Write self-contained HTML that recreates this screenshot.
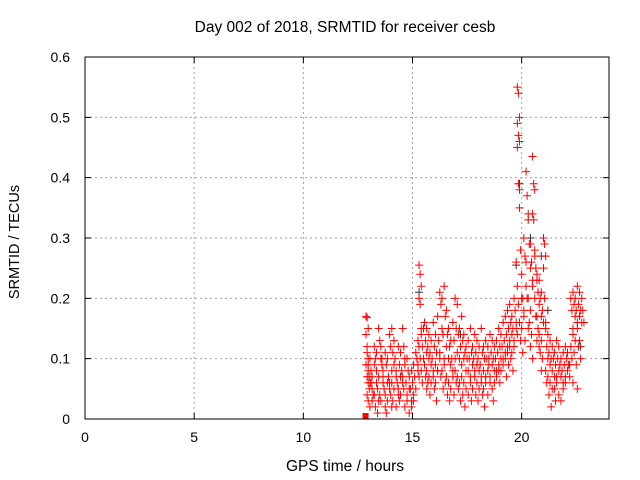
<!DOCTYPE html>
<html><head><meta charset="utf-8"><style>
body{margin:0;background:#fff}
svg{display:block;font-family:"Liberation Sans",sans-serif}
</style></head><body>
<svg id="chart" width="640" height="480" viewBox="0 0 640 480" xmlns="http://www.w3.org/2000/svg">
<rect width="640" height="480" fill="#fff"/>
<text x="345" y="32" font-size="15.5" text-anchor="middle">Day 002 of 2018, SRMTID for receiver cesb</text>
<text x="345" y="471" font-size="15.5" text-anchor="middle">GPS time / hours</text>
<text x="19" y="242" font-size="14.5" text-anchor="middle" transform="rotate(-90 19 242)">SRMTID / TECUs</text>
<g id="grid"></g>
<g id="axes"></g>
<g id="marks"></g>
<rect x="85" y="57" width="524" height="362" fill="none" stroke="#000" stroke-width="1"/>
</svg>
<script>
const xTicks = [0,5,10,15,20];
const yTicks = [0,0.1,0.2,0.3,0.4,0.5,0.6];
const yTickLabels = ["0","0.1","0.2","0.3","0.4","0.5","0.6"];
const groupTimes = [12.92,12.97,13.02,13.1,13.2,13.3,13.4,13.5,13.6,13.7,13.8,13.9,14.0,14.1,14.2,14.3,14.4,14.5,14.6,14.7,14.8,14.9,15.0,15.1,15.2,15.3,15.35,15.45,15.6,15.7,15.8,15.9,16.0,16.1,16.2,16.3,16.4,16.5,16.6,16.7,16.8,16.9,17.0,17.1,17.2,17.3,17.4,17.5,17.6,17.7,17.8,17.9,18.0,18.1,18.2,18.3,18.4,18.5,18.6,18.7,18.8,18.9,19.0,19.1,19.2,19.3,19.4,19.5,19.6,19.7,19.8,19.85,19.95,20.05,20.15,20.25,20.35,20.45,20.55,20.65,20.75,20.85,20.95,21.05,21.15,21.25,21.35,21.45,21.55,21.65,21.75,21.85,21.95,22.05,22.15,22.3,22.4,22.5,22.6,22.7,22.8];
const groupValues = [
[0.17,0.168,0.15,0.14,0.12,0.1,0.09,0.07,0.06],[0.11,0.08,0.05,0.04],[0.09,0.07,0.06,0.03],[0.1,0.08,0.05,0.02,0.06],[0.07,0.04,0.09,0.03],
[0.12,0.1,0.06,0.04,0.02],[0.08,0.05,0.03,0.11,0.01],[0.15,0.13,0.1,0.07,0.04],[0.12,0.09,0.06,0.03,0.1],[0.08,0.05,0.02,0.07],
[0.11,0.09,0.06,0.04,0.01],[0.1,0.07,0.05,0.03],[0.14,0.12,0.08,0.06,0.04,0.02],[0.15,0.11,0.09,0.06,0.03],[0.13,0.1,0.07,0.05],
[0.08,0.06,0.04,0.02],[0.12,0.09,0.07,0.05,0.03],[0.11,0.08,0.06,0.04],[0.15,0.12,0.1,0.07,0.05],[0.09,0.06,0.04,0.02],
[0.1,0.08,0.05,0.03],[0.07,0.05,0.03,0.01],[0.08,0.06,0.04,0.02],[0.09,0.07,0.05,0.03],[0.11,0.1,0.08],
[0.13,0.12,0.1,0.09,0.07],[0.255,0.24,0.22,0.2,0.19,0.15],[0.14,0.12,0.1,0.08,0.06],[0.16,0.13,0.11,0.09,0.07,0.05],[0.15,0.12,0.1,0.08,0.06],
[0.14,0.11,0.09,0.07,0.04],[0.13,0.1,0.08,0.06],[0.16,0.12,0.09,0.07,0.05],[0.14,0.11,0.08,0.06,0.03],[0.17,0.13,0.1,0.08],
[0.21,0.19,0.15,0.11,0.07],[0.2,0.14,0.1,0.08,0.05],[0.22,0.17,0.12,0.09,0.06],[0.18,0.14,0.1,0.07,0.04],[0.15,0.12,0.09,0.06,0.03],
[0.13,0.1,0.08,0.05],[0.16,0.13,0.1,0.07,0.04],[0.2,0.15,0.11,0.08,0.06],[0.19,0.14,0.1,0.07,0.05],[0.15,0.12,0.09,0.06,0.03],
[0.17,0.13,0.1,0.07,0.04],[0.14,0.11,0.08,0.06,0.02],[0.12,0.1,0.08,0.05],[0.13,0.1,0.07,0.04],[0.15,0.11,0.09,0.06,0.03],
[0.12,0.1,0.08,0.05],[0.14,0.11,0.09,0.07,0.04],[0.13,0.1,0.08,0.06,0.03],[0.12,0.09,0.07,0.05],[0.15,0.11,0.08,0.06,0.04],
[0.12,0.1,0.07,0.05,0.02],[0.13,0.1,0.08,0.06],[0.12,0.09,0.07,0.04],[0.14,0.11,0.09,0.06],[0.13,0.1,0.08,0.05,0.03],
[0.12,0.1,0.08,0.06],[0.13,0.11,0.09,0.07],[0.15,0.12,0.1,0.08,0.06],[0.14,0.12,0.1,0.08],[0.16,0.13,0.11,0.09],
[0.17,0.14,0.12,0.1,0.07],[0.18,0.15,0.13,0.11,0.09],[0.19,0.16,0.14,0.12,0.1],[0.17,0.15,0.13,0.11,0.08],[0.2,0.18,0.15,0.12],
[0.26,0.22,0.19,0.16,0.14],[0.55,0.54,0.5,0.49,0.47,0.46,0.45,0.39,0.35],[0.38,0.28,0.2,0.16,0.13],[0.24,0.2,0.18,0.15,0.11],[0.3,0.27,0.22,0.17,0.13],
[0.41,0.37,0.34,0.26,0.2,0.15],[0.33,0.29,0.25,0.2,0.16,0.12],[0.29,0.26,0.22,0.18,0.14,0.1],[0.435,0.39,0.38,0.34,0.33,0.27,0.23],[0.28,0.25,0.23,0.2,0.17,0.13],
[0.24,0.21,0.19,0.17,0.15,0.12],[0.23,0.2,0.17,0.14,0.11,0.08],[0.21,0.18,0.16,0.13,0.1],[0.3,0.29,0.27,0.25,0.2,0.16],[0.15,0.12,0.1,0.08,0.06],
[0.14,0.11,0.09,0.07,0.04],[0.13,0.1,0.08,0.06,0.02],[0.12,0.1,0.07,0.05],[0.11,0.09,0.07,0.05,0.03],[0.13,0.1,0.08,0.06],
[0.12,0.09,0.07,0.04],[0.1,0.08,0.06,0.03],[0.11,0.09,0.07,0.05],[0.12,0.1,0.08,0.06],[0.11,0.09,0.07],
[0.2,0.18,0.15,0.12,0.1,0.06],[0.21,0.19,0.17,0.14,0.11],[0.2,0.18,0.16,0.13,0.09,0.05],[0.22,0.19,0.17,0.15,0.12],[0.21,0.18,0.16,0.13,0.1],
[0.2,0.18,0.16]
];
const darkTimes = [15.3,15.5,16.4,17.2,18.5,19.75,19.9,20.4,20.9,21.0,21.2,22.2,22.7];
const darkValues = [0.21,0.15,0.14,0.14,0.1,0.255,0.39,0.3,0.27,0.3,0.18,0.09,0.12];

const X0=85,X1=609,Y0=419,Y1=57;
const xScale=v=>X0+(v/24)*(X1-X0);
const yScale=v=>Y0-(v/0.6)*(Y0-Y1);
const NS="http://www.w3.org/2000/svg";
function mk(tag,attrs,parent){const e=document.createElementNS(NS,tag);for(const k in attrs)e.setAttribute(k,attrs[k]);parent.appendChild(e);return e;}
const grid=document.getElementById('grid'),axes=document.getElementById('axes'),marks=document.getElementById('marks');
xTicks.forEach(t=>{
  const x=xScale(t);
  if(t>0){const g=mk('line',{x1:x,x2:x,y1:Y0,y2:Y1,stroke:'#a0a0a0','stroke-dasharray':'2,3'},grid);
  
  }
  const tk=mk('path',{d:`M${x},${Y0}v-6M${x},${Y1}v6`,stroke:'#000'},axes);
  
  
  const lb=mk('text',{x:x,y:442,'font-size':14,'text-anchor':'middle'},axes);lb.textContent=String(t);
  
  
});
yTicks.forEach((t,i)=>{
  const y=yScale(t);
  if(i>0&&i<yTicks.length-1){const g=mk('line',{x1:X0,x2:X1,y1:y,y2:y,stroke:'#a0a0a0','stroke-dasharray':'2,3'},grid);
  
  }
  const tk=mk('path',{d:`M${X0},${y}h6M${X1},${y}h-6`,stroke:'#000'},axes);
  
  
  const lb=mk('text',{x:70,y:y+5,'font-size':14,'text-anchor':'end'},axes);lb.textContent=yTickLabels[i];
  
  
});
function plus(t,v,color,name){
  const x=xScale(t),y=yScale(v);
  const p=mk('path',{d:`M${x-4},${y}h8M${x},${y-4}v8`,stroke:color,'stroke-width':1},marks);
  
  
}
darkTimes.forEach((t,i)=>plus(t,darkValues[i],'#333','dark-point'));
groupTimes.forEach((t,gi)=>{
  groupValues[gi].forEach((v,j)=>plus(t+((j%3)-1)*0.05,v,'#ff0000','srmtid-point'));
});
const sq=mk('rect',{x:xScale(12.85)-3,y:yScale(0)-6,width:6,height:6,fill:'#ff0000'},marks);


</script>
</body></html>
